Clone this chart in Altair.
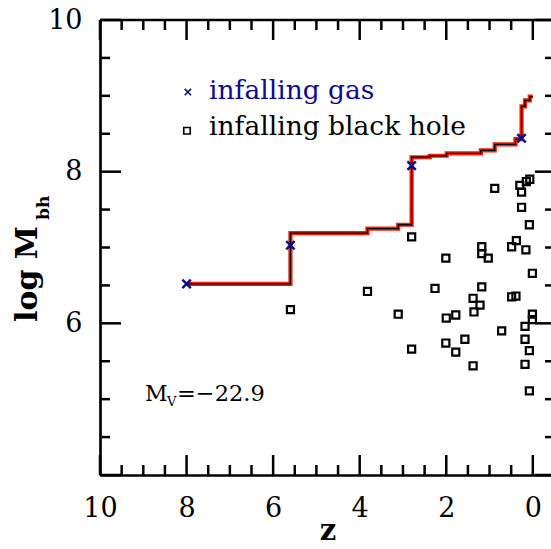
import altair as alt
import pandas as pd

# ---------------- data ----------------
# black hole mass growth history (step line)
step_z = [8.0, 5.6, 5.6, 3.82, 3.82, 3.11, 3.11, 2.80, 2.80, 2.38, 2.38, 1.99, 1.99,
          1.20, 1.20, 0.88, 0.88, 0.40, 0.40, 0.26, 0.26, 0.18, 0.18, 0.07, 0.07, 0.0]
step_m = [6.52, 6.52, 7.19, 7.19, 7.25, 7.25, 7.30, 7.30, 8.19, 8.19, 8.21, 8.21, 8.24,
          8.24, 8.28, 8.28, 8.36, 8.36, 8.43, 8.43, 8.86, 8.86, 8.94, 8.94, 8.99, 8.99]

# infalling gas events
gas_z = [8.0, 5.6, 2.80, 0.26]
gas_m = [6.52, 7.03, 8.08, 8.44]

# infalling black holes
bh_z = [5.60, 3.82, 3.11, 2.80, 2.80, 2.26, 2.01, 2.00, 2.01, 1.78, 1.78, 1.57, 1.38, 1.36,
        1.38, 1.22, 1.18, 1.18, 1.03, 1.18, 0.88, 0.72, 0.49, 0.38, 0.49, 0.39, 0.30, 0.26,
        0.15, 0.07, 0.26, 0.08, 0.16, 0.01, 0.01, 0.01, 0.18, 0.18, 0.08, 0.18, 0.08]
bh_m = [6.18, 6.42, 6.12, 7.14, 5.66, 6.46, 6.86, 6.07, 5.74, 6.11, 5.62, 5.79, 6.33, 6.15,
        5.44, 6.24, 7.01, 6.92, 6.86, 6.48, 7.78, 5.90, 7.01, 7.09, 6.35, 6.36, 7.82, 7.73,
        7.87, 7.90, 7.53, 7.30, 6.97, 6.66, 6.12, 6.05, 5.96, 5.79, 5.64, 5.46, 5.11]

# axis ticks / labels
x_major = [10, 8, 6, 4, 2, 0]
x_minor = [9.5, 9, 8.5, 7.5, 7, 6.5, 5.5, 5, 4.5, 3.5, 3, 2.5, 1.5, 1, 0.5]
y_major = [4, 6, 8, 10]
y_minor = [4.5, 5, 5.5, 6.5, 7, 7.5, 8.5, 9, 9.5]
y_labels = [6, 8, 10]

legend_labels = ["infalling gas", "infalling black hole"]
annot_label = "=\u221222.9"

# ---------------- chart ----------------
W, H = 451, 455
FONT = "DejaVu Serif"
BLUE = "#0c0c8a"
RED = "#ff1a00"
CROSS = "M-1,-1L1,1M-1,1L1,-1"

xs = alt.Scale(domain=[-0.42, 10], reverse=True, nice=False, zero=False)
ys = alt.Scale(domain=[4, 10], nice=False, zero=False)

XAX = alt.Axis(
    values=x_major, format="d", labelFont=FONT, labelFontSize=27, labelColor="black",
    labelPadding=20, labelFlush=False, labelOverlap=False, ticks=False, tickSize=0,
    domain=True, domainColor="black", domainWidth=2.7, grid=False, title=None)
YAX = alt.Axis(
    values=y_labels, format="d", labelFont=FONT, labelFontSize=27, labelColor="black",
    labelPadding=18, labelFlush=False, labelOverlap=False, ticks=False, tickSize=0,
    domain=True, domainColor="black", domainWidth=2.7, grid=False, title=None)


def X(field):
    return alt.X(field, scale=xs, axis=XAX)


def Y(field):
    return alt.Y(field, scale=ys, axis=YAX)


line_df = pd.DataFrame({"z": step_z, "m": step_m, "i": list(range(len(step_z)))})
gas_df = pd.DataFrame({"z": gas_z, "m": gas_m})
bh_df = pd.DataFrame({"z": bh_z, "m": bh_m})

red_line = alt.Chart(line_df).mark_line(color=RED, strokeWidth=4.2).encode(
    x=X("z:Q"), y=Y("m:Q"), order="i:Q")
black_line = alt.Chart(line_df).mark_line(color="black", strokeWidth=1.3).encode(
    x=X("z:Q"), y=Y("m:Q"), order="i:Q")

squares = alt.Chart(bh_df).mark_point(
    shape="square", filled=False, color="black", strokeWidth=2.2, size=50, opacity=1
).encode(x=X("z:Q"), y=Y("m:Q"))

crosses = alt.Chart(gas_df).mark_point(
    shape=CROSS, filled=False, stroke=BLUE, strokeWidth=2.5, size=70, opacity=1
).encode(x=X("z:Q"), y=Y("m:Q"))


def xticks(vals, y0, y1):
    return alt.Chart(pd.DataFrame({"z": vals})).mark_rule(color="black", strokeWidth=2.5).encode(
        x=X("z:Q"), y=alt.value(y0), y2=alt.value(y1))


def yticks(vals, x0, x1):
    return alt.Chart(pd.DataFrame({"m": vals})).mark_rule(color="black", strokeWidth=2.5).encode(
        y=Y("m:Q"), x=alt.value(x0), x2=alt.value(x1))


RX = W + 4
ticks = [
    xticks(x_major, H, H - 20), xticks(x_minor, H, H - 10),
    xticks(x_major, 0, 20), xticks(x_minor, 0, 10),
    yticks(y_major, 0, 21), yticks(y_minor, 0, 10),
    yticks(y_major, RX, RX - 20), yticks(y_minor, RX, RX - 10),
]

top_frame = alt.Chart(pd.DataFrame({"a": [0]})).mark_rule(color="black", strokeWidth=2.7).encode(
    x=alt.value(0), x2=alt.value(W + 10), y=alt.value(0))

# legend (manual)
leg_sym_df = pd.DataFrame({"z": [7.97], "m": [9.05]})
leg_sq_df = pd.DataFrame({"z": [7.99], "m": [8.54]})
leg_cross = alt.Chart(leg_sym_df).mark_point(
    shape=CROSS, filled=False, stroke=BLUE, strokeWidth=1.6, size=40, opacity=1
).encode(x=X("z:Q"), y=Y("m:Q"))
leg_sq = alt.Chart(leg_sq_df).mark_point(
    shape="square", filled=False, color="black", strokeWidth=1.6, size=42, opacity=1
).encode(x=X("z:Q"), y=Y("m:Q"))

leg_txt_df = pd.DataFrame({"z": [7.48, 7.48], "m": [8.96, 8.48], "t": legend_labels,
                           "c": [BLUE, "black"]})
leg_txt = alt.Chart(leg_txt_df).mark_text(
    font=FONT, fontSize=26.5, align="left", baseline="alphabetic"
).encode(
    x=X("z:Q"), y=Y("m:Q"),
    text="t:N", color=alt.Color("c:N", scale=None, legend=None),
)

# M_V annotation
mv_df = pd.DataFrame({"z": [8.96], "m": [4.97], "a": ["M"], "b": ["V"], "c": [annot_label]})
mv_M = alt.Chart(mv_df).mark_text(font=FONT, fontSize=22, align="left", baseline="alphabetic",
                                  color="black").encode(x=X("z:Q"), y=Y("m:Q"), text="a:N")
mv_V = alt.Chart(mv_df).mark_text(font=FONT, fontSize=13, align="left", baseline="alphabetic",
                                  color="black", dx=22, dy=5).encode(x=X("z:Q"), y=Y("m:Q"), text="b:N")
mv_rest = alt.Chart(mv_df).mark_text(font=FONT, fontSize=22.5, align="left", baseline="alphabetic",
                                     color="black", dx=32).encode(x=X("z:Q"), y=Y("m:Q"), text="c:N")

# axis titles (with subscript)
ttl_df = pd.DataFrame({"a": ["log M"], "b": ["bh"], "z": ["z"]})
ytitle = alt.Chart(ttl_df).mark_text(font=FONT, fontSize=30, fontWeight="bold", angle=270,
                                     align="left", baseline="alphabetic", color="black").encode(
    x=alt.value(-63), y=alt.value(302), text="a:N")
ysub = alt.Chart(ttl_df).mark_text(font=FONT, fontSize=17, fontWeight="bold", angle=270,
                                   align="left", baseline="alphabetic", color="black").encode(
    x=alt.value(-51), y=alt.value(200), text="b:N")
xtitle = alt.Chart(ttl_df).mark_text(font=FONT, fontSize=29, fontWeight="bold",
                                     align="center", baseline="alphabetic", color="black").encode(
    x=alt.value(228), y=alt.value(520), text="z:N")

chart = alt.layer(
    squares, red_line, black_line, crosses, *ticks, top_frame,
    leg_cross, leg_sq, leg_txt, mv_M, mv_V, mv_rest, ytitle, ysub, xtitle,
).properties(
    width=W, height=H,
    autosize=alt.AutoSizeParams(type="none"),
    padding={"left": 100, "top": 20, "right": 0, "bottom": 74},
    background="white",
).configure_view(stroke="transparent")

chart.save("out.html", embed_options={"renderer": "svg", "actions": False})
